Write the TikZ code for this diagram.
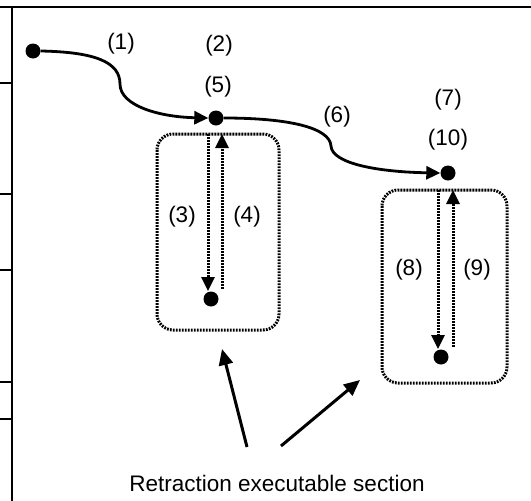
\documentclass[tikz,border=0pt]{standalone}
\usepackage{fontspec}
\setmainfont{Liberation Sans}
\usetikzlibrary{arrows.meta}
\begin{document}
\begin{tikzpicture}[x=1pt,y=-1pt,
  frameline/.style={line width=2.6pt},
  dotnode/.style={circle,fill=black,inner sep=0pt,minimum size=15pt},
  flow/.style={line width=2.8pt,-{Triangle[length=14pt,width=13pt]}},
  dotline/.style={line width=3pt,dash pattern=on 1.8pt off 1.2pt},
  dotarrow/.style={dotline,-{Triangle[length=14pt,width=13pt]}},
  secbox/.style={dotline,rounded corners=16pt},
  pointer/.style={line width=3pt,-{Triangle[length=16pt,width=14pt]}},
  lbl/.style={font=\fontsize{22.5}{26}\selectfont,inner sep=0pt}]
\useasboundingbox (0,0) rectangle (531,501);
% frame
\draw[frameline] (0,7) -- (531,7);
\draw[frameline] (12,7) -- (12,501);
\foreach \yy in {83,194,270,382,419} \draw[frameline] (0,\yy) -- (12,\yy);
% dots
\node[dotnode] (s) at (33,51) {};
\node[dotnode] (a) at (216,118) {};
\node[dotnode] (a2) at (211,299) {};
\node[dotnode] (b) at (448,173) {};
\node[dotnode] (b2) at (441,357) {};
% boxes
\draw[secbox] (157,134) rectangle (279,330);
\draw[secbox] (382,190) rectangle (507,383);
% main curves
\draw[flow] (s.east) .. controls (95,52) and (120,62) .. (120,84)
  .. controls (120,106) and (160,117) .. (a.west);
\draw[flow] (a.east) .. controls (290,118) and (330,128) .. (331,146)
  .. controls (332,164) and (380,172) .. (b.west);
% inner dotted arrows
\coordinate (a3s) at (208,134);
\coordinate (a3e) at (208,291);
\coordinate (a4s) at (222,289);
\coordinate (a4e) at (222,134);
\draw[dotarrow] (a3s) -- (a3e);
\draw[dotarrow] (a4s) -- (a4e);
\coordinate (b8s) at (438,190);
\coordinate (b8e) at (438,349);
\coordinate (b9s) at (453,347);
\coordinate (b9e) at (453,190);
\draw[dotarrow] (b8s) -- (b8e);
\draw[dotarrow] (b9s) -- (b9e);
% labels
\node[lbl] at (121,44) {(1)};
\node[lbl] at (219,46) {(2)};
\node[lbl] at (218,87) {(5)};
\node[lbl] at (337,117) {(6)};
\node[lbl] at (448,100) {(7)};
\node[lbl] at (448,140) {(10)};
\node[lbl] at (182,217) {(3)};
\node[lbl] at (247,217) {(4)};
\node[lbl] at (409,270) {(8)};
\node[lbl] at (477,270) {(9)};
\node[lbl] (t) at (277,483) {Retraction executable section};
% pointers
\coordinate (p1) at (247,447);
\coordinate (p1e) at (222,349);
\coordinate (p2) at (281,446);
\coordinate (p2e) at (360,380);
\draw[pointer] (p1) -- (p1e);
\draw[pointer] (p2) -- (p2e);
\end{tikzpicture}
\end{document}
